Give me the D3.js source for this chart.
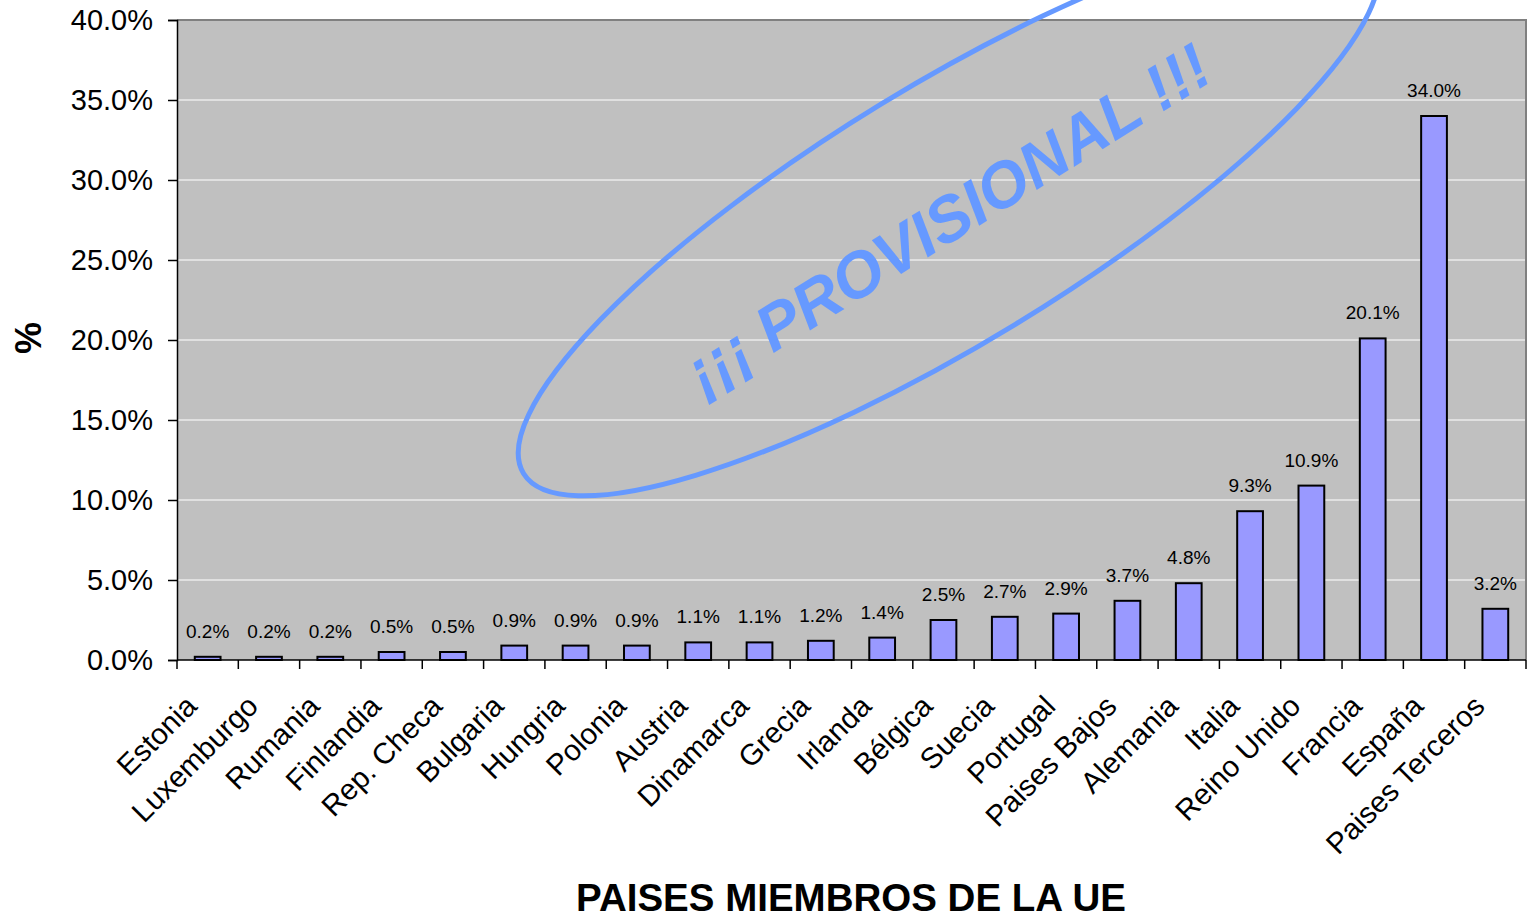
<!DOCTYPE html>
<html>
<head>
<meta charset="utf-8">
<script src="https://cdn.jsdelivr.net/npm/d3@7"></script>
<style>
  html, body { margin: 0; padding: 0; background: #fff; }
  svg { display: block; font-family: Arial, "Liberation Sans", sans-serif; }
</style>
</head>
<body>
<svg id="chart" width="1530" height="919"></svg>
<script>
// --- données ---
const paises = ['Estonia', 'Luxemburgo', 'Rumania', 'Finlandia', 'Rep. Checa', 'Bulgaria',
  'Hungria', 'Polonia', 'Austria', 'Dinamarca', 'Grecia', 'Irlanda', 'Bélgica', 'Suecia',
  'Portugal', 'Paises Bajos', 'Alemania', 'Italia', 'Reino Unido', 'Francia', 'España',
  'Paises Terceros'];
const porcentajes = [0.2, 0.2, 0.2, 0.5, 0.5, 0.9, 0.9, 0.9, 1.1, 1.1, 1.2, 1.4, 2.5, 2.7,
  2.9, 3.7, 4.8, 9.3, 10.9, 20.1, 34.0, 3.2];
const yTicks = [0, 5, 10, 15, 20, 25, 30, 35, 40];

const datos = paises.map((p, i) => ({ pais: p, valor: porcentajes[i] }));

const svg = d3.select('#chart');

const plotLeft = 177, plotRight = 1526, plotTop = 20, plotBottom = 660;

const x = d3.scaleBand()
  .domain(paises)
  .range([plotLeft, plotRight])
  .padding(0);

const y = d3.scaleLinear()
  .domain([0, 40])
  .range([plotBottom, plotTop]);

const barW = x.bandwidth() * 0.42;

// fond gris de la zone de tracé
svg.append('rect')
  .attr('x', plotLeft)
  .attr('y', plotTop)
  .attr('width', plotRight - plotLeft)
  .attr('height', plotBottom - plotTop)
  .attr('fill', '#C0C0C0');

// lignes de grille
svg.append('g')
  .selectAll('line')
  .data(yTicks.filter(d => d > 0 && d < 40))
  .enter()
  .append('line')
  .attr('x1', plotLeft)
  .attr('x2', plotRight)
  .attr('y1', d => y(d))
  .attr('y2', d => y(d))
  .attr('stroke', '#FFFFFF')
  .attr('stroke-width', 1.2);

// bordure haut / droite
svg.append('path')
  .attr('d', `M${plotLeft},${plotTop}H${plotRight}V${plotBottom}`)
  .attr('fill', 'none')
  .attr('stroke', '#808080')
  .attr('stroke-width', 2);

// barres
svg.append('g')
  .selectAll('rect')
  .data(datos)
  .enter()
  .append('rect')
  .attr('x', d => x(d.pais) + (x.bandwidth() - barW) / 2)
  .attr('y', d => y(d.valor))
  .attr('width', barW)
  .attr('height', d => y(0) - y(d.valor))
  .attr('fill', '#9999FF')
  .attr('stroke', '#000')
  .attr('stroke-width', 2);

// étiquettes de valeur
svg.append('g')
  .selectAll('text')
  .data(datos)
  .enter()
  .append('text')
  .attr('x', d => x(d.pais) + x.bandwidth() / 2)
  .attr('y', d => y(d.valor) - 19)
  .attr('text-anchor', 'middle')
  .attr('font-size', 19)
  .attr('fill', '#000')
  .text(d => d.valor.toFixed(1) + '%');

// axe Y
const yAxis = svg.append('g')
  .attr('transform', `translate(${plotLeft},0)`)
  .call(d3.axisLeft(y).tickValues(yTicks).tickSize(9).tickPadding(15)
    .tickFormat(d => d.toFixed(1) + '%'));
yAxis.select('.domain').attr('stroke', '#000').attr('stroke-width', 1.5);
yAxis.selectAll('.tick line').attr('stroke', '#000').attr('stroke-width', 1.5);
yAxis.selectAll('.tick text')
  .attr('font-size', 29)
  .attr('font-family', 'Arial, "Liberation Sans", sans-serif')
  .attr('fill', '#000');

// axe X (graduations entre les catégories)
const xAxisG = svg.append('g');
xAxisG.append('line')
  .attr('x1', plotLeft).attr('x2', plotRight)
  .attr('y1', plotBottom).attr('y2', plotBottom)
  .attr('stroke', '#000').attr('stroke-width', 1.5);
xAxisG.selectAll('line.tk')
  .data(paises.concat(['__fin']))
  .enter()
  .append('line')
  .attr('class', 'tk')
  .attr('x1', (d, i) => plotLeft + i * x.step())
  .attr('x2', (d, i) => plotLeft + i * x.step())
  .attr('y1', plotBottom)
  .attr('y2', plotBottom + 9)
  .attr('stroke', '#000')
  .attr('stroke-width', 1.5);

xAxisG.selectAll('text')
  .data(paises)
  .enter()
  .append('text')
  .attr('transform', d => `translate(${x(d) + x.bandwidth() / 2 - 9},708) rotate(-45)`)
  .attr('text-anchor', 'end')
  .attr('font-size', 29.5)
  .attr('fill', '#000')
  .text(d => d);

// titres des axes
svg.append('text')
  .attr('x', 851)
  .attr('y', 911)
  .attr('text-anchor', 'middle')
  .attr('font-size', 38.5)
  .attr('font-weight', 'bold')
  .text('PAISES MIEMBROS DE LA UE');

svg.append('text')
  .attr('transform', 'translate(41,338) rotate(-90)')
  .attr('text-anchor', 'middle')
  .attr('font-size', 36)
  .attr('font-weight', 'bold')
  .text('%');

// tampon "provisional"
const sello = svg.append('g');
sello.append('ellipse')
  .attr('cx', 948.6)
  .attr('cy', 214)
  .attr('rx', 498)
  .attr('ry', 129)
  .attr('transform', 'rotate(-31.4,948.6,214)')
  .attr('fill', 'none')
  .attr('stroke', '#6699FF')
  .attr('stroke-width', 5);

sello.append('text')
  .attr('transform', 'translate(948,219) rotate(-31.8)')
  .attr('text-anchor', 'middle')
  .attr('dominant-baseline', 'central')
  .attr('font-size', 64)
  .attr('font-weight', 'bold')
  .attr('font-style', 'italic')
  .attr('fill', '#6699FF')
  .text('¡¡¡ PROVISIONAL !!!');
</script>
</body>
</html>
